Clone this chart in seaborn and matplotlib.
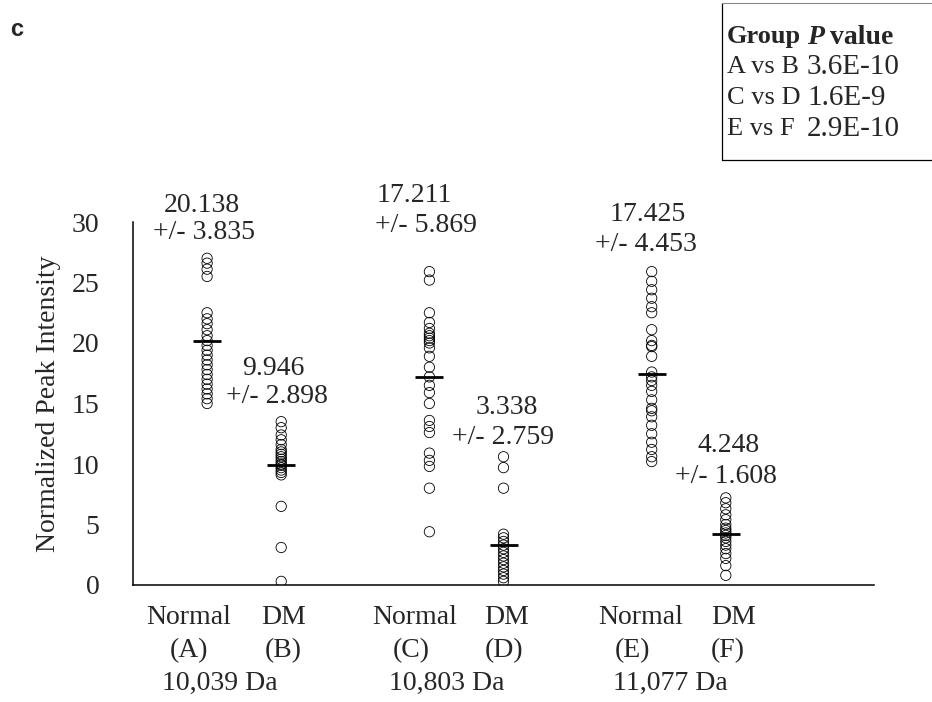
import matplotlib
matplotlib.use("Agg")
import matplotlib.pyplot as plt
import seaborn as sns
import pandas as pd

# ---------------- data ----------------
group_codes = ["A", "B", "C", "D", "E", "F"]
group_status = ["Normal", "DM", "Normal", "DM", "Normal", "DM"]
mass_labels = ["10,039 Da", "10,803 Da", "11,077 Da"]

values_A = [27.0, 26.6, 26.1, 25.5, 22.5, 22.0, 21.6, 21.1, 20.6, 20.2, 19.8, 19.4,
            19.0, 18.6, 18.2, 17.8, 17.4, 17.0, 16.6, 16.2, 15.8, 15.4, 15.0]
values_B = [13.5, 13.0, 12.4, 12.0, 11.6, 11.2, 11.0, 10.8, 10.6, 10.4, 10.2, 10.0,
            9.9, 9.7, 9.5, 9.3, 9.1, 6.5, 3.1, 0.3]
values_C = [25.9, 25.2, 22.5, 21.7, 21.2, 20.8, 20.6, 20.4, 20.2, 20.0, 19.6, 18.9,
            18.0, 17.2, 16.5, 15.9, 15.0, 13.6, 13.1, 12.6, 10.9, 10.3, 9.8, 8.0, 4.4]
values_D = [10.6, 9.7, 8.0, 4.2, 3.9, 3.6, 3.3, 3.0, 2.7, 2.4, 2.1, 1.8, 1.5, 1.2,
            0.9, 0.6, 0.3]
values_E = [25.9, 25.1, 24.4, 23.7, 23.0, 22.5, 21.1, 20.2, 19.8, 19.7, 18.9, 17.6,
            17.2, 16.9, 16.5, 16.0, 15.3, 14.6, 14.4, 13.9, 13.2, 12.5, 11.8, 11.2,
            10.6, 10.2]
values_F = [7.2, 6.8, 6.3, 5.8, 5.4, 5.0, 4.7, 4.5, 4.3, 4.1, 3.9, 3.6, 3.3, 3.0,
            2.6, 2.2, 1.6, 0.8]

group_means = [20.138, 9.946, 17.211, 3.338, 17.425, 4.248]
group_sds = [3.835, 2.898, 5.869, 2.759, 4.453, 1.608]

table_groups = ["A vs B", "C vs D", "E vs F"]
table_pvalues = ["3.6E-10", "1.6E-9", "2.9E-10"]

# ---------------- layout ----------------
group_x = [0.5, 1.0, 2.0, 2.5, 3.5, 4.0]   # position of each group on the numeric x axis

all_values = [values_A, values_B, values_C, values_D, values_E, values_F]
rows = []
for code, xpos, vals in zip(group_codes, group_x, all_values):
    for v in vals:
        rows.append({"group": code, "x": xpos, "value": v})
df = pd.DataFrame(rows)
df_mean = pd.DataFrame({"group": group_codes, "x": group_x, "value": group_means})

sns.set_style("white")
plt.rcParams["font.family"] = ["Liberation Serif", "DejaVu Serif"]
FS = 20

W, H = 932, 702
fig = plt.figure(figsize=(W / 100, H / 100), dpi=100)
ax = fig.add_axes([133 / W, 1 - 585 / H, (874 - 133) / W, (585 - 222) / H])

sns.scatterplot(data=df, x="x", y="value", ax=ax, marker="o", s=55,
                facecolor="none", edgecolor="black", linewidth=0.6, zorder=3)
sns.scatterplot(data=df_mean, x="x", y="value", ax=ax, marker="_", s=380,
                color="black", linewidth=2.0, zorder=4)

ax.set_xlim(0, 5)
ax.set_ylim(0, 30)
ax.set_xticks([1, 2, 3, 4, 5])
ax.set_xticklabels([])
ax.set_yticks([0, 5, 10, 15, 20, 25, 30])
ax.tick_params(axis="x", direction="in", length=6, width=1.0, color="black")
ax.tick_params(axis="y", direction="in", length=6, width=1.0, color="black",
               labelsize=FS, pad=24)
ax.set_xlabel("")
ax.set_ylabel("Normalized Peak Intensity", fontsize=FS, labelpad=8)
for side in ["top", "right"]:
    ax.spines[side].set_visible(False)
for side in ["left", "bottom"]:
    ax.spines[side].set_color("black")
    ax.spines[side].set_linewidth(1.1)

# mean +/- sd annotations (text positions in data coords)
mean_txt_pos = [(0.466, 31.4), (0.945, 17.9), (1.896, 32.2), (2.524, 14.7), (3.475, 30.6), (4.022, 11.5)]
sd_txt_pos = [(0.479, 29.1), (0.972, 15.6), (1.977, 29.75), (2.497, 12.2), (3.46, 28.1), (4.003, 9.0)]
for m, s, mp, sp in zip(group_means, group_sds, mean_txt_pos, sd_txt_pos):
    ax.text(mp[0], mp[1], f"{m:.3f}", ha="center", va="center", fontsize=FS, clip_on=False)
    ax.text(sp[0], sp[1], f"+/- {s:.3f}", ha="center", va="center", fontsize=FS, clip_on=False)

def fx(px):
    return px / W

def fy(py):
    return 1 - py / H

status_x = [189, 284, 415, 507, 641, 734]
code_x = [189, 283, 411, 504, 632, 728]
for st, code, sx, cx in zip(group_status, group_codes, status_x, code_x):
    fig.text(fx(sx), fy(617), st, ha="center", va="center", fontsize=FS)
    fig.text(fx(cx), fy(651), f"({code})", ha="center", va="center", fontsize=FS)
for lab, mx in zip(mass_labels, [220, 447, 670]):
    fig.text(fx(mx), fy(683), lab, ha="center", va="center", fontsize=FS)

# panel letter
fig.text(fx(10), fy(30), "c", ha="left", va="center", fontsize=17, fontweight="bold",
         family=["Liberation Sans", "DejaVu Sans"])

# p-value table
TFS = 19
fig.add_artist(plt.Line2D([fx(722), fx(722)], [fy(3), fy(160)], color="black", lw=0.9))
fig.add_artist(plt.Line2D([fx(722), fx(932)], [fy(160), fy(160)], color="black", lw=0.9))
fig.add_artist(plt.Line2D([fx(722), fx(932)], [fy(3), fy(3)], color="#888888", lw=0.8))
fig.text(fx(727), fy(37), "Group", ha="left", va="center", fontsize=TFS, fontweight="bold")
fig.text(fx(807), fy(37), "P", ha="left", va="center", fontsize=TFS + 1, fontweight="bold",
         style="italic")
fig.text(fx(830), fy(37), "value", ha="left", va="center", fontsize=TFS + 1, fontweight="bold")
for i, (g, p) in enumerate(zip(table_groups, table_pvalues)):
    yy = 67 + i * 31
    fig.text(fx(727), fy(yy), g, ha="left", va="center", fontsize=TFS)
    fig.text(fx(807), fy(yy), p, ha="left", va="center", fontsize=TFS + 2)

fig.savefig("out.png", dpi=100)
